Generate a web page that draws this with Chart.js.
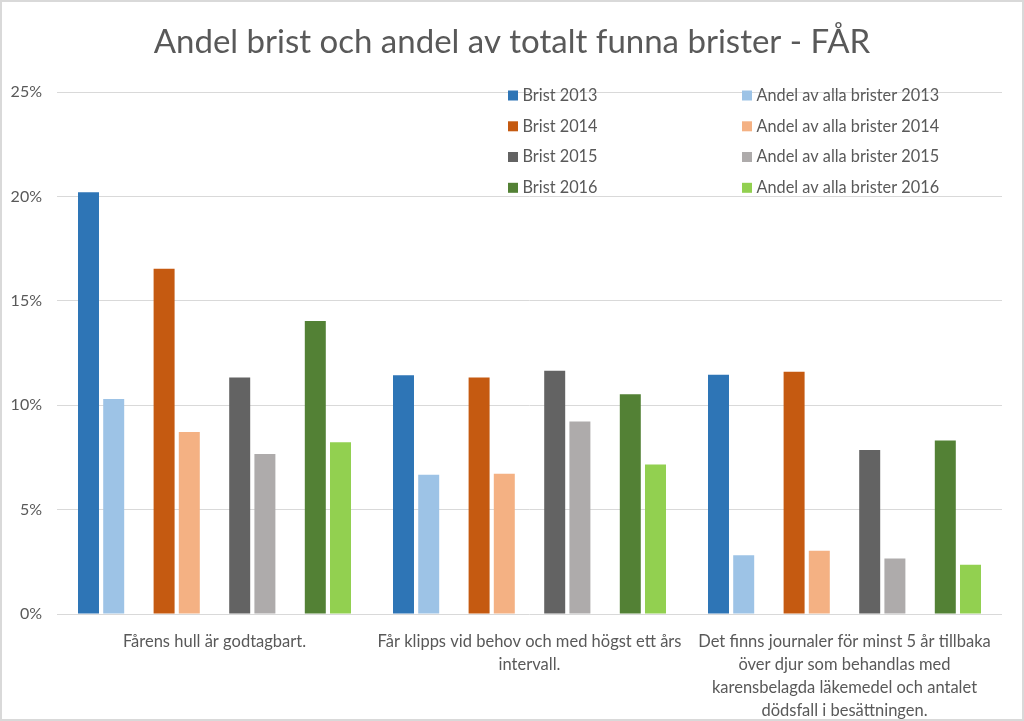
<!DOCTYPE html>
<html>
<head>
<meta charset="utf-8">
<script src="https://cdn.jsdelivr.net/npm/chart.js@4"></script>
<style>
html,body{margin:0;padding:0;background:#fff;}
#wrap{width:1024px;height:721px;position:relative;}
</style>
</head>
<body>
<div id="wrap"><canvas id="c" width="1024" height="721"></canvas></div>
<script>
const categories = [
  "Fårens hull är godtagbart.",
  ["Får klipps vid behov och med högst ett års", "intervall."],
  ["Det finns journaler för minst 5 år tillbaka", "över djur som behandlas med", "karensbelagda läkemedel och antalet", "dödsfall i besättningen."]
];
const brist2013 = [20.2, 11.43, 11.46];
const andel2013 = [10.3, 6.67, 2.81];
const brist2014 = [16.54, 11.33, 11.6];
const andel2014 = [8.72, 6.72, 3.03];
const brist2015 = [11.33, 11.65, 7.85];
const andel2015 = [7.66, 9.22, 2.66];
const brist2016 = [14.03, 10.52, 8.31];
const andel2016 = [8.22, 7.16, 2.36];
const yTicks = [0, 5, 10, 15, 20, 25];

const seriesNames = ["Brist 2013","Andel av alla brister 2013","Brist 2014","Andel av alla brister 2014","Brist 2015","Andel av alla brister 2015","Brist 2016","Andel av alla brister 2016"];
const seriesData = [brist2013, andel2013, brist2014, andel2014, brist2015, andel2015, brist2016, andel2016];
const seriesColors = ["#2E75B6","#9DC3E6","#C55A11","#F4B183","#636363","#AEABAB","#538135","#92D050"];

const datasets = [];
for (let i = 0; i < 8; i++) {
  datasets.push({label: seriesNames[i], data: seriesData[i], backgroundColor: seriesColors[i], isReal: true});
  if (i % 2 === 1 && i < 7) {
    datasets.push({label: "", data: [null, null, null], backgroundColor: "rgba(0,0,0,0)", isReal: false});
  }
}

const FONT = "Lato";
const TXT = "#595959";

const decor = {
  id: "decor",
  beforeDraw(chart) {
    const ctx = chart.ctx;
    ctx.save();
    ctx.fillStyle = "#fff";
    ctx.fillRect(0, 0, chart.width, chart.height);
    ctx.strokeStyle = "#d9d9d9";
    ctx.lineWidth = 2;
    ctx.strokeRect(1, 1, chart.width - 2, chart.height - 2);
    ctx.restore();
  },
  afterDraw(chart) {
    const ctx = chart.ctx;
    const real = chart.data.datasets.filter(d => d.isReal);
    const colX = [508, 742];
    const rowY = [95.5, 126.3, 157, 187.8];
    ctx.save();
    ctx.font = "16.3px " + FONT;
    ctx.textBaseline = "middle";
    ctx.textAlign = "left";
    real.forEach((d, i) => {
      const col = i % 2, row = Math.floor(i / 2);
      const x = colX[col], y = rowY[row];
      ctx.fillStyle = d.backgroundColor;
      ctx.fillRect(x, y - 5, 10, 10);
      ctx.fillStyle = TXT;
      ctx.fillText(d.label, x + 14.5, y);
    });
    ctx.restore();
  }
};

new Chart(document.getElementById("c"), {
  type: "bar",
  data: {labels: categories, datasets: datasets},
  options: {
    responsive: false,
    animation: false,
    devicePixelRatio: 1,
    layout: {padding: {top: 0, left: 0, right: 0, bottom: 0}},
    datasets: {bar: {categoryPercentage: 0.88, barPercentage: 0.833}},
    plugins: {
      legend: {display: false},
      tooltip: {enabled: false},
      title: {
        display: true,
        text: "Andel brist och andel av totalt funna brister - FÅR",
        color: TXT,
        font: {family: FONT, size: 33, weight: "normal", lineHeight: 1.2},
        padding: {top: 23, bottom: 29.4}
      }
    },
    scales: {
      x: {
        grid: {display: false, drawTicks: false},
        border: {display: false},
        ticks: {
          color: TXT,
          font: {family: FONT, size: 16.5, lineHeight: 1.394},
          padding: 16.5,
          maxRotation: 0,
          minRotation: 0,
          autoSkip: false
        },
        afterFit(s) { s.height = 107; }
      },
      y: {
        min: 0, max: 25,
        afterBuildTicks(s) { s.ticks = yTicks.map(v => ({value: v})); },
        grid: {color: "#d9d9d9", lineWidth: 1, drawTicks: false},
        border: {display: false},
        ticks: {
          color: TXT,
          font: {family: FONT, size: 16},
          padding: 15,
          callback: v => v + "%"
        },
        afterFit(s) { s.width = 57; }
      },
      yRightSpacer: {
        position: "right",
        min: 0, max: 25,
        grid: {display: false, drawTicks: false},
        border: {display: false},
        ticks: {display: false},
        afterFit(s) { s.width = 22; }
      }
    }
  },
  plugins: [decor]
});
</script>
</body>
</html>
